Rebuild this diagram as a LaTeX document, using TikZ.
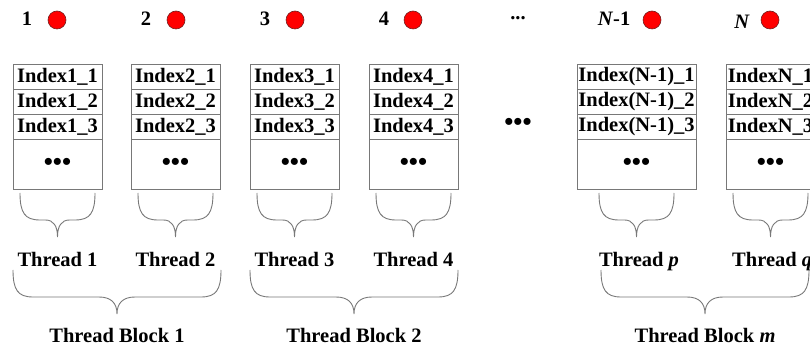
\documentclass[tikz,border=0pt]{standalone}
\usepackage{fontspec}
\setmainfont{Liberation Serif}
\definecolor{linegray}{rgb}{0.47,0.47,0.47}
\definecolor{dotred}{rgb}{1,0,0}
\definecolor{dotrim}{rgb}{0.45,0.12,0.12}
\tikzset{
  cell/.style={draw=linegray, line width=0.9pt, inner sep=0pt, outer sep=0pt,
    minimum height=25pt, font=\bfseries\fontsize{20.5}{24}\selectfont},
  lbl/.style={inner sep=0pt, font=\bfseries\fontsize{20.5}{24}\selectfont},
  bullets/.style={inner sep=0pt, font=\bfseries\fontsize{26}{28}\selectfont},
  marker/.style={circle, fill=dotred, draw=dotrim, line width=0.6pt, minimum size=18pt, inner sep=0pt},
  bracestyle/.style={draw=linegray, line width=0.9pt}
}
% one column of index cells: name, left x, width, index text
\newcommand{\idxcolumn}[4]{%
  \pgfmathsetmacro{\cc}{#2+#3/2}
  \node[cell, minimum width=#3pt] (#1-1) at (\cc,76.5) {Index#4\_1};
  \node[cell, minimum width=#3pt, anchor=north] (#1-2) at (#1-1.south) {Index#4\_2};
  \node[cell, minimum width=#3pt, anchor=north] (#1-3) at (#1-2.south) {Index#4\_3};
  \node[cell, minimum width=#3pt, minimum height=50pt, anchor=north, font=\bfseries\fontsize{26}{28}\selectfont] (#1-4) at (#1-3.south) {\textbullet\textbullet\textbullet};
}
% curly brace: left x, right x, top y, half width of the tip
\newcommand{\curlybrace}[4]{%
  \pgfmathsetmacro{\bc}{(#1+#2)/2}
  \draw[bracestyle] (#1,#3) .. controls (#1,#3+20) and (#1+5,#3+27) .. (#1+20,#3+27)
    -- (\bc-#4,#3+27) .. controls (\bc-#4/3,#3+27) and (\bc,#3+33) .. (\bc,#3+44)
    .. controls (\bc,#3+33) and (\bc+#4/3,#3+27) .. (\bc+#4,#3+27)
    -- (#2-20,#3+27) .. controls (#2-5,#3+27) and (#2,#3+20) .. (#2,#3);
}
\begin{document}
\begin{tikzpicture}[x=1pt,y=-1pt]
\useasboundingbox (0,0) rectangle (810,344);
\clip (0,0) rectangle (810,344);

% numbered markers
\node[lbl, anchor=base] (n1) at (27,26) {1};
\node[marker] (m1) at (57,20) {};
\node[lbl, anchor=base] (n2) at (146,26) {2};
\node[marker] (m2) at (176,20) {};
\node[lbl, anchor=base] (n3) at (265,26) {3};
\node[marker] (m3) at (295,20) {};
\node[lbl, anchor=base] (n4) at (384,26) {4};
\node[marker] (m4) at (413,20) {};
\node[lbl, anchor=base] (topdots) at (518,20) {...};
\node[lbl, anchor=base] (nN1) at (614,26) {\textit{N}-1};
\node[marker] (mN1) at (652,20) {};
\node[lbl, anchor=base] (nN) at (742,29) {\textit{N}};
\node[marker] (mN) at (770,20) {};

% index columns
\idxcolumn{c1}{13}{89}{1}
\idxcolumn{c2}{131}{89}{2}
\idxcolumn{c3}{250}{89}{3}
\idxcolumn{c4}{369}{89}{4}
\idxcolumn{cN1}{577}{119}{(N-1)}
\idxcolumn{cN}{726}{89}{N}
\node[bullets] (gapdots) at (518,124) {\textbullet\textbullet\textbullet};

% thread braces
\curlybrace{20}{95}{193}{12}
\curlybrace{138}{213}{193}{12}
\curlybrace{257}{332}{193}{12}
\curlybrace{376}{451}{193}{12}
\curlybrace{599}{674}{193}{12}
\curlybrace{733}{808}{193}{12}

\node[lbl, anchor=base] (t1) at (57.5,266) {Thread 1};
\node[lbl, anchor=base] (t2) at (175.5,266) {Thread 2};
\node[lbl, anchor=base] (t3) at (294.5,266) {Thread 3};
\node[lbl, anchor=base] (t4) at (413.5,266) {Thread 4};
\node[lbl, anchor=base] (tp) at (639,266) {Thread \textit{p}};
\node[lbl, anchor=base west] (tq) at (732,266) {Thread \textit{q}};

% block braces
\curlybrace{13}{221}{270}{18}
\curlybrace{250}{458}{270}{18}
\curlybrace{601}{809}{270}{18}

\node[lbl, anchor=base] (b1) at (117,342) {Thread Block 1};
\node[lbl, anchor=base] (b2) at (354,342) {Thread Block 2};
\node[lbl, anchor=base] (bm) at (705,342) {Thread Block \textit{m}};
\end{tikzpicture}
\end{document}
